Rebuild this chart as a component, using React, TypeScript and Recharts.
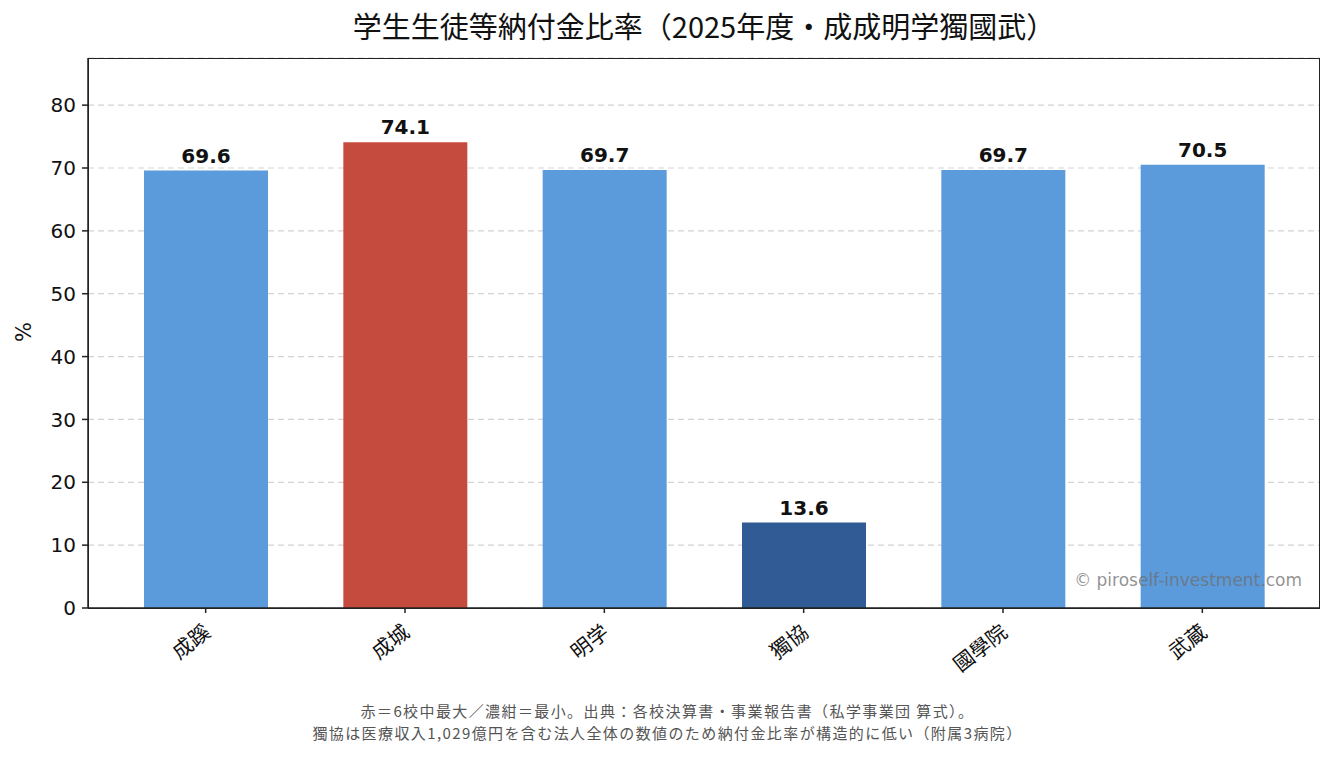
import { Bar, BarChart, CartesianGrid, Cell, LabelList, XAxis, YAxis } from "recharts";

const schools = ["成蹊", "成城", "明学", "獨協", "國學院", "武蔵"];
const ratios = [69.6, 74.1, 69.7, 13.6, 69.7, 70.5];
const barColors = ["#5b9bdb", "#c64b3f", "#5b9bdb", "#305b94", "#5b9bdb", "#5b9bdb"];
const yTicks = [0, 10, 20, 30, 40, 50, 60, 70, 80];
const footnotes = [
  "赤＝6校中最大／濃紺＝最小。出典：各校決算書・事業報告書（私学事業団 算式）。",
  "獨協は医療収入1,029億円を含む法人全体の数値のため納付金比率が構造的に低い（附属3病院）",
];

const data = schools.map((name, i) => ({ name, ratio: ratios[i], color: barColors[i] }));

const FONT = "'Noto Sans CJK JP', 'Noto Sans', sans-serif";
const NUM_FONT = "'DejaVu Sans', 'Noto Sans CJK JP', sans-serif";

function SchoolTick({ x, y, payload }: { x?: number; y?: number; payload?: { value: string } }) {
  return (
    <g transform={`translate(${(x ?? 0) + 6},${(y ?? 0) + 20})`}>
      <text
        x={0}
        y={0}
        textAnchor="end"
        transform="rotate(-38)"
        fill="#111"
        fontSize={20.5}
        fontFamily={FONT}
      >
        {payload?.value}
      </text>
    </g>
  );
}

export default function App() {
  return (
    <div
      style={{
        position: "absolute",
        left: 0,
        top: 0,
        width: 1335,
        height: 757,
        background: "#fff",
        fontFamily: FONT,
      }}
    >
      <div
        style={{
          position: "absolute",
          left: 88,
          width: 1232,
          top: 5,
          textAlign: "center",
          fontSize: 29,
          color: "#111",
          lineHeight: "40px",
        }}
      >
        学生生徒等納付金比率（2025年度・成成明学獨國武）
      </div>

      <div
        style={{
          position: "absolute",
          left: 14,
          top: 320,
          fontSize: 21,
          fontFamily: NUM_FONT,
          color: "#111",
          transform: "rotate(-90deg)",
        }}
      >
        %
      </div>

      <BarChart
        width={1335}
        height={757}
        data={data}
        margin={{ top: 58, right: 15, bottom: 0, left: 28 }}
        style={{ position: "absolute", left: 0, top: 0 }}
      >
        <CartesianGrid vertical={false} stroke="#d3d3d3" strokeDasharray="6 4" strokeWidth={1.2} />
        <XAxis
          dataKey="name"
          padding={{ left: 18, right: 18 }}
          tickLine={{ stroke: "#222", strokeWidth: 1.5 }}
          tickSize={5}
          axisLine={{ stroke: "#222", strokeWidth: 1.5 }}
          tick={<SchoolTick />}
          interval={0}
          height={149}
        />
        <YAxis
          domain={[0, 87.5]}
          ticks={yTicks}
          width={60}
          tickSize={6}
          tickMargin={6}
          tickLine={{ stroke: "#222", strokeWidth: 1.5 }}
          axisLine={{ stroke: "#222", strokeWidth: 1.5 }}
          tick={{ fill: "#111", fontSize: 20, fontFamily: NUM_FONT }}
          allowDataOverflow
        />
        <Bar dataKey="ratio" barSize={124} isAnimationActive={false}>
          {data.map((d) => (
            <Cell key={d.name} fill={d.color} />
          ))}
          <LabelList
            dataKey="ratio"
            position="top"
            offset={8}
            formatter={(v: number) => v.toFixed(1)}
            style={{ fill: "#111", fontSize: 20, fontWeight: 700, fontFamily: NUM_FONT }}
          />
        </Bar>
      </BarChart>

      <div
        style={{
          position: "absolute",
          left: 88,
          top: 58,
          width: 1232,
          height: 551,
          boxSizing: "border-box",
          border: "1.5px solid #222",
          pointerEvents: "none",
        }}
      />

      <div
        style={{
          position: "absolute",
          right: 33,
          top: 570,
          fontSize: 17,
          fontFamily: NUM_FONT,
          color: "rgba(110,110,110,0.75)",
        }}
      >
        © piroself-investment.com
      </div>

      <div
        style={{
          position: "absolute",
          left: 0,
          width: 1335,
          top: 700,
          textAlign: "center",
          fontSize: 15,
          letterSpacing: 1.4,
          lineHeight: "22px",
          color: "#555",
        }}
      >
        {footnotes.map((line) => (
          <div key={line}>{line}</div>
        ))}
      </div>
    </div>
  );
}
